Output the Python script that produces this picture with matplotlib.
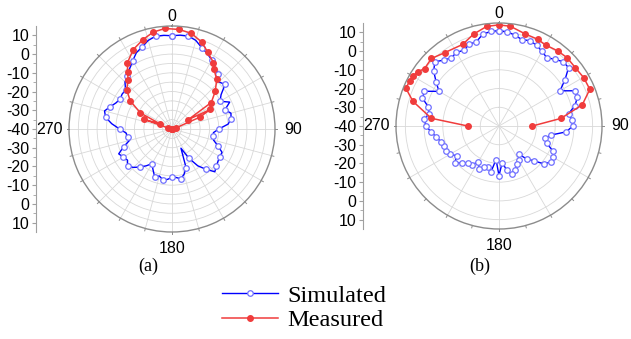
import numpy as np
import matplotlib
matplotlib.use("Agg")
import matplotlib.pyplot as plt

# (a) simulated, every 5 deg from 0 to 355
sim_a_ang = np.arange(0, 360, 5)
sim_a = [9.8, 10.3, 10.4, 9.0, 6.3, 4.5, 2.5, 0.0, -1.5, -4.5,
         -3.0, -8.0, -10.4, -6.0, -9.9, -7.4, -8.0, -9.9, -15.0, -17.8,
         -17.5, -17.0, -14.0, -10.5, -10.5, -10.0, -9.0, -7.7, -12.0, -16.0,
         -22.0, -28.7, -18.0, -15.0, -13.0, -14.0, -14.2, -13.0, -12.4, -14.0,
         -12.9, -16.0, -18.6, -16.0, -13.5, -11.0, -9.0, -11.0, -10.0, -8.6,
         -12.6, -16.5, -16.0, -15.4, -12.0, -7.7, -4.0, -2.7, -5.0, -7.0,
         -8.0, -7.5, -7.6, -4.5, -3.0, -0.6, 2.0, 5.0, 6.6, 9.0,
         10.3, 10.2]

# (a) measured
meas_a_ang = [-90, -82, -75, -71, -67, -63, -56, -49, -42, -38, -34, -26, -18, -11, -4,
              4, 11.5, 19, 25, 32, 35, 42, 49, 56, 60, 63, 67, 75, 82, 90]
meas_a = [-40, -40, -38, -24, -33, -21, -13.1, -7.9, -5.0, -1.5, 2.6, 7.2, 10.2, 12.7, 13.8,
          13.3, 12.1, 9.0, 5.2, 1.8, -1.0, -4.3, -9.4, -14.7, -30, -17, -24, -38, -40, -40]

# (b) simulated, every 5 deg
sim_b_ang = np.arange(0, 360, 5)
sim_b = [10.9, 10.5, 9.2, 7.7, 8.5, 7.5, 6.0, 4.5, 6.5, 8.5,
         8.5, 3.0, -2.4, 4.5, 4.5, 2.0, -2.3, -1.0, -0.6, -4.0,
         -12.0, -14.3, -12.9, -8.0, -6.5, -6.4, -8.5, -13.7, -17.0, -21.7,
         -19.0, -17.5, -15.0, -13.4, -16.0, -20.4, -13.5, -22.0, -15.0, -17.5,
         -16.6, -14.8, -18.0, -14.6, -14.5, -12.0, -9.4, -12.3, -9.8, -8.5,
         -8.5, -7.8, -6.0, -3.6, -1.0, 0.0, -2.0, -1.0, 3.5, 3.9,
         -3.0, 1.0, 5.5, 8.5, 5.9, 4.4, 5.4, 4.6, 6.4, 6.6,
         9.8, 10.7]

# (b) measured
meas_b_ang = [-90, -83.5, -74, -68, -63, -60, -56, -52.4, -45, -36.4, -24, -15.5, -7,
              0, 6.5, 16, 24, 30, 38, 45, 52.7, 60.4, 68, 75.7, 83, 90]
meas_b = [-23.3, -3.6, 7.8, 13.6, 13.5, 13.2, 12.0, 10.2, 11.0, 8.7, 7.7, 10.9, 13.6,
          14.0, 13.6, 11.1, 10.7, 9.9, 10.9, 11.5, 11.3, 12.1, 12.3, 5.9, -6.7, -22.2]

r_labels = ["10", "0", "-10", "-20", "-30", "-40", "-30", "-20", "-10", "0", "10"]

BLUE = "#0000ff"
BLUE_M = "#7070ff"
RED = "#f03c3c"
RMIN, RMAX = -40, 15

plt.rcParams["font.family"] = ["Liberation Sans", "DejaVu Sans"]
fig = plt.figure(figsize=(6.31, 3.39), dpi=100)
W, H = 631, 339


def closed(ang, val):
    ang = list(ang) + [ang[0] + 360]
    val = list(val) + [val[0]]
    return np.deg2rad(ang), np.array(val)


def setup_polar(cx, cy, rstep, tstep, axis_x):
    R = 103
    ax = fig.add_axes([(cx - R) / W, 1 - (cy + R) / H, 2 * R / W, 2 * R / H],
                      projection="polar")
    ax.set_theta_zero_location("N")
    ax.set_theta_direction(-1)
    ax.set_ylim(RMIN, RMAX)
    rt = np.arange(RMIN + rstep, RMAX, rstep)
    ax.set_rgrids(rt, labels=[""] * len(rt))
    tt = np.arange(0, 360, tstep)
    ax.set_thetagrids(tt, labels=[""] * len(tt))
    ax.grid(color="#d8d8d8", lw=0.6)
    ax.spines["polar"].set_color("#8c8c8c")
    ax.spines["polar"].set_linewidth(1.0)
    for a in np.arange(0, 360, 15):
        ax.plot([np.deg2rad(a)] * 2, [RMAX, RMAX + 1.3], color="#8c8c8c",
                lw=0.7, clip_on=False)
    fs = 11.5
    ax.text(0.5, 1.045, "0", transform=ax.transAxes, ha="center", va="center", fontsize=fs)
    ax.text(1.09, 0.5, "90", transform=ax.transAxes, ha="center", va="center", fontsize=fs)
    ax.text(0.5, -0.08, "180", transform=ax.transAxes, ha="center", va="center", fontsize=fs)
    ax.text(-0.095, 0.5, "270", transform=ax.transAxes, ha="center", va="center", fontsize=fs)

    # linear radial scale drawn on the left
    span = RMAX - RMIN
    axr = fig.add_axes([axis_x / W, 1 - (cy + R) / H, 0.0005, 2 * R / H])
    axr.set_ylim(-span, span)
    axr.set_xticks([])
    pos = [50, 40, 30, 20, 10, 0, -10, -20, -30, -40, -50]
    axr.set_yticks(pos)
    axr.set_yticklabels(r_labels, fontsize=fs)
    axr.set_yticks(np.arange(-45, 50, 10), minor=True)
    for s in ["top", "right", "bottom"]:
        axr.spines[s].set_visible(False)
    axr.spines["left"].set_color("#a0a0a0")
    axr.tick_params(axis="y", which="major", length=3, color="#a0a0a0", pad=2)
    axr.tick_params(axis="y", which="minor", length=2, color="#a0a0a0")
    axr.patch.set_visible(False)
    return ax


ax1 = setup_polar(172, 129, 5, 15, 36)
t, v = closed(sim_a_ang, sim_a)
l1, = ax1.plot(t, v, color=BLUE, lw=1, marker="o", ms=4, mfc="white",
               mec=BLUE_M, mew=0.9, markevery=2, label="Simulated")
l2, = ax1.plot(np.deg2rad(meas_a_ang), meas_a, color=RED, lw=1.1, marker="o", ms=4,
               mfc=RED, mec=RED, label="Measured")

ax2 = setup_polar(499, 126, 10, 30, 363)
t, v = closed(sim_b_ang, sim_b)
ax2.plot(t, v, color=BLUE, lw=1, marker="o", ms=4, mfc="white", mec=BLUE_M, mew=0.9)
ax2.plot(np.deg2rad(meas_b_ang), meas_b, color=RED, lw=1.1, marker="o", ms=4,
         mfc=RED, mec=RED)

fig.text(148 / W, 1 - 266 / H, "(a)", family="Liberation Serif", fontsize=13,
         ha="center", va="center")
fig.text(480 / W, 1 - 266 / H, "(b)", family="Liberation Serif", fontsize=13,
         ha="center", va="center")

fig.legend(handles=[l1, l2], loc="center", bbox_to_anchor=(304 / W, 1 - 308 / H),
           frameon=False, prop={"family": "Liberation Serif", "size": 17.5},
           handlelength=2.3, handletextpad=0.4, labelspacing=0.1)

fig.savefig("out.png", dpi=100)
